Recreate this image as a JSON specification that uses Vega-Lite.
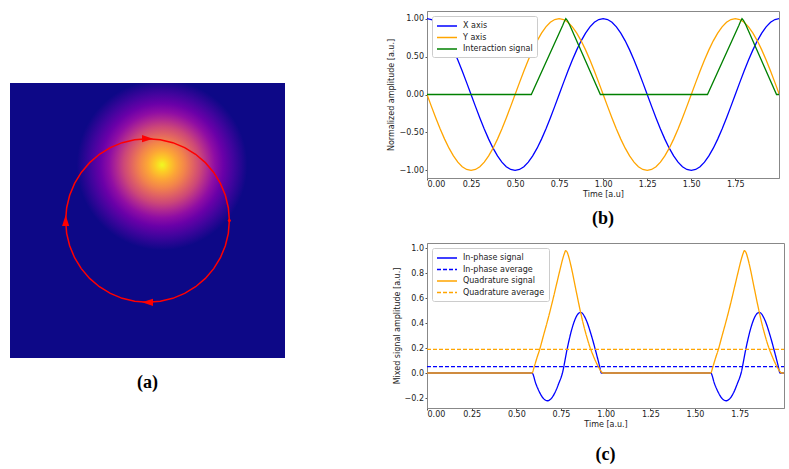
{
  "$schema": "https://vega.github.io/schema/vega-lite/v6.json",
  "padding": {"left": 10, "top": 10, "right": 0, "bottom": 0},
  "background": "#ffffff",
  "config": {
    "font": "DejaVu Sans",
    "view": {"stroke": "#888888", "strokeWidth": 1},
    "axis": {
      "labelFont": "DejaVu Sans", "labelFontSize": 8, "labelColor": "#222222",
      "titleFont": "DejaVu Sans", "titleFontSize": 8, "titleFontWeight": "normal", "titleColor": "#222222",
      "domainColor": "#888888", "tickColor": "#555555", "tickSize": 2,
      "titlePadding": 3, "grid": false
    },
    "axisX": {"labelPadding": 0, "titlePadding": 2},
    "axisY": {"labelPadding": 1.5, "titlePadding": 3},
    "legend": {
      "orient": "top-left", "offset": 5, "padding": 4, "fillColor": "#ffffff", "strokeColor": "#cccccc",
      "cornerRadius": 2, "labelFont": "DejaVu Sans", "labelFontSize": 8, "labelColor": "#222222",
      "symbolType": "M-1,0L3,0", "symbolSize": 100, "symbolStrokeWidth": 1.5, "rowPadding": 1.5, "labelOffset": 15
    },
    "title": {"font": "Liberation Serif", "fontSize": 18, "fontWeight": "bold", "color": "#000000", "orient": "bottom"}
  },
  "datasets": {
    "heat": [{"x0": -1.68, "x1": 1.68, "y0": -1.68, "y1": 1.68}],
    "arrows": [
      {"ax": 0, "ay": 1, "dir": "right"},
      {"ax": -1, "ay": 0, "dir": "up"},
      {"ax": 0, "ay": -1, "dir": "left"},
      {"ax": 1, "ay": 0, "dir": "dot"}
    ],
    "wave": [
      {"t": 0, "X axis": 1, "Y axis": 0},
      {"t": 0.025, "X axis": 0.9877, "Y axis": -0.1564},
      {"t": 0.05, "X axis": 0.9511, "Y axis": -0.309},
      {"t": 0.075, "X axis": 0.891, "Y axis": -0.454},
      {"t": 0.1, "X axis": 0.809, "Y axis": -0.5878},
      {"t": 0.125, "X axis": 0.7071, "Y axis": -0.7071},
      {"t": 0.15, "X axis": 0.5878, "Y axis": -0.809},
      {"t": 0.175, "X axis": 0.454, "Y axis": -0.891},
      {"t": 0.2, "X axis": 0.309, "Y axis": -0.9511},
      {"t": 0.225, "X axis": 0.1564, "Y axis": -0.9877},
      {"t": 0.25, "X axis": 0, "Y axis": -1},
      {"t": 0.275, "X axis": -0.1564, "Y axis": -0.9877},
      {"t": 0.3, "X axis": -0.309, "Y axis": -0.9511},
      {"t": 0.325, "X axis": -0.454, "Y axis": -0.891},
      {"t": 0.35, "X axis": -0.5878, "Y axis": -0.809},
      {"t": 0.375, "X axis": -0.7071, "Y axis": -0.7071},
      {"t": 0.4, "X axis": -0.809, "Y axis": -0.5878},
      {"t": 0.425, "X axis": -0.891, "Y axis": -0.454},
      {"t": 0.45, "X axis": -0.9511, "Y axis": -0.309},
      {"t": 0.475, "X axis": -0.9877, "Y axis": -0.1564},
      {"t": 0.5, "X axis": -1, "Y axis": 0},
      {"t": 0.525, "X axis": -0.9877, "Y axis": 0.1564},
      {"t": 0.55, "X axis": -0.9511, "Y axis": 0.309},
      {"t": 0.575, "X axis": -0.891, "Y axis": 0.454},
      {"t": 0.6, "X axis": -0.809, "Y axis": 0.5878},
      {"t": 0.625, "X axis": -0.7071, "Y axis": 0.7071},
      {"t": 0.65, "X axis": -0.5878, "Y axis": 0.809},
      {"t": 0.675, "X axis": -0.454, "Y axis": 0.891},
      {"t": 0.7, "X axis": -0.309, "Y axis": 0.9511},
      {"t": 0.725, "X axis": -0.1564, "Y axis": 0.9877},
      {"t": 0.75, "X axis": 0, "Y axis": 1},
      {"t": 0.775, "X axis": 0.1564, "Y axis": 0.9877},
      {"t": 0.8, "X axis": 0.309, "Y axis": 0.9511},
      {"t": 0.825, "X axis": 0.454, "Y axis": 0.891},
      {"t": 0.85, "X axis": 0.5878, "Y axis": 0.809},
      {"t": 0.875, "X axis": 0.7071, "Y axis": 0.7071},
      {"t": 0.9, "X axis": 0.809, "Y axis": 0.5878},
      {"t": 0.925, "X axis": 0.891, "Y axis": 0.454},
      {"t": 0.95, "X axis": 0.9511, "Y axis": 0.309},
      {"t": 0.975, "X axis": 0.9877, "Y axis": 0.1564},
      {"t": 1.0, "X axis": 1, "Y axis": 0},
      {"t": 1.025, "X axis": 0.9877, "Y axis": -0.1564},
      {"t": 1.05, "X axis": 0.9511, "Y axis": -0.309},
      {"t": 1.075, "X axis": 0.891, "Y axis": -0.454},
      {"t": 1.1, "X axis": 0.809, "Y axis": -0.5878},
      {"t": 1.125, "X axis": 0.7071, "Y axis": -0.7071},
      {"t": 1.15, "X axis": 0.5878, "Y axis": -0.809},
      {"t": 1.175, "X axis": 0.454, "Y axis": -0.891},
      {"t": 1.2, "X axis": 0.309, "Y axis": -0.9511},
      {"t": 1.225, "X axis": 0.1564, "Y axis": -0.9877},
      {"t": 1.25, "X axis": 0, "Y axis": -1},
      {"t": 1.275, "X axis": -0.1564, "Y axis": -0.9877},
      {"t": 1.3, "X axis": -0.309, "Y axis": -0.9511},
      {"t": 1.325, "X axis": -0.454, "Y axis": -0.891},
      {"t": 1.35, "X axis": -0.5878, "Y axis": -0.809},
      {"t": 1.375, "X axis": -0.7071, "Y axis": -0.7071},
      {"t": 1.4, "X axis": -0.809, "Y axis": -0.5878},
      {"t": 1.425, "X axis": -0.891, "Y axis": -0.454},
      {"t": 1.45, "X axis": -0.9511, "Y axis": -0.309},
      {"t": 1.475, "X axis": -0.9877, "Y axis": -0.1564},
      {"t": 1.5, "X axis": -1, "Y axis": 0},
      {"t": 1.525, "X axis": -0.9877, "Y axis": 0.1564},
      {"t": 1.55, "X axis": -0.9511, "Y axis": 0.309},
      {"t": 1.575, "X axis": -0.891, "Y axis": 0.454},
      {"t": 1.6, "X axis": -0.809, "Y axis": 0.5878},
      {"t": 1.625, "X axis": -0.7071, "Y axis": 0.7071},
      {"t": 1.65, "X axis": -0.5878, "Y axis": 0.809},
      {"t": 1.675, "X axis": -0.454, "Y axis": 0.891},
      {"t": 1.7, "X axis": -0.309, "Y axis": 0.9511},
      {"t": 1.725, "X axis": -0.1564, "Y axis": 0.9877},
      {"t": 1.75, "X axis": 0, "Y axis": 1},
      {"t": 1.775, "X axis": 0.1564, "Y axis": 0.9877},
      {"t": 1.8, "X axis": 0.309, "Y axis": 0.9511},
      {"t": 1.825, "X axis": 0.454, "Y axis": 0.891},
      {"t": 1.85, "X axis": 0.5878, "Y axis": 0.809},
      {"t": 1.875, "X axis": 0.7071, "Y axis": 0.7071},
      {"t": 1.9, "X axis": 0.809, "Y axis": 0.5878},
      {"t": 1.925, "X axis": 0.891, "Y axis": 0.454},
      {"t": 1.95, "X axis": 0.9511, "Y axis": 0.309},
      {"t": 1.975, "X axis": 0.9877, "Y axis": 0.1564},
      {"t": 2.0, "X axis": 1, "Y axis": 0}
    ],
    "inter": [
      {"t": 0, "Interaction signal": 0},
      {"t": 0.592, "Interaction signal": 0},
      {"t": 0.77, "Interaction signal": 0.91},
      {"t": 0.78, "Interaction signal": 0.965},
      {"t": 0.788, "Interaction signal": 1},
      {"t": 0.797, "Interaction signal": 0.975},
      {"t": 0.81, "Interaction signal": 0.915},
      {"t": 0.984, "Interaction signal": 0},
      {"t": 1.592, "Interaction signal": 0},
      {"t": 1.77, "Interaction signal": 0.91},
      {"t": 1.78, "Interaction signal": 0.965},
      {"t": 1.788, "Interaction signal": 1},
      {"t": 1.797, "Interaction signal": 0.975},
      {"t": 1.81, "Interaction signal": 0.915},
      {"t": 1.984, "Interaction signal": 0},
      {"t": 1.998, "Interaction signal": 0}
    ],
    "mix": [
      {"s": "In-phase signal", "t": 0, "v": 0},
      {"s": "In-phase signal", "t": 0.588, "v": 0},
      {"s": "In-phase signal", "t": 0.609, "v": -0.085},
      {"s": "In-phase signal", "t": 0.631, "v": -0.157},
      {"s": "In-phase signal", "t": 0.652, "v": -0.205},
      {"s": "In-phase signal", "t": 0.674, "v": -0.222},
      {"s": "In-phase signal", "t": 0.695, "v": -0.205},
      {"s": "In-phase signal", "t": 0.716, "v": -0.157},
      {"s": "In-phase signal", "t": 0.737, "v": -0.085},
      {"s": "In-phase signal", "t": 0.758, "v": 0},
      {"s": "In-phase signal", "t": 0.7835, "v": 0.186},
      {"s": "In-phase signal", "t": 0.809, "v": 0.343},
      {"s": "In-phase signal", "t": 0.8345, "v": 0.448},
      {"s": "In-phase signal", "t": 0.86, "v": 0.485},
      {"s": "In-phase signal", "t": 0.889, "v": 0.43},
      {"s": "In-phase signal", "t": 0.918, "v": 0.31},
      {"s": "In-phase signal", "t": 0.947, "v": 0.16},
      {"s": "In-phase signal", "t": 0.965, "v": 0.06},
      {"s": "In-phase signal", "t": 0.976, "v": 0},
      {"s": "In-phase signal", "t": 1.588, "v": 0},
      {"s": "In-phase signal", "t": 1.609, "v": -0.085},
      {"s": "In-phase signal", "t": 1.631, "v": -0.157},
      {"s": "In-phase signal", "t": 1.652, "v": -0.205},
      {"s": "In-phase signal", "t": 1.674, "v": -0.222},
      {"s": "In-phase signal", "t": 1.695, "v": -0.205},
      {"s": "In-phase signal", "t": 1.716, "v": -0.157},
      {"s": "In-phase signal", "t": 1.737, "v": -0.085},
      {"s": "In-phase signal", "t": 1.758, "v": 0},
      {"s": "In-phase signal", "t": 1.7835, "v": 0.186},
      {"s": "In-phase signal", "t": 1.809, "v": 0.343},
      {"s": "In-phase signal", "t": 1.8345, "v": 0.448},
      {"s": "In-phase signal", "t": 1.86, "v": 0.485},
      {"s": "In-phase signal", "t": 1.889, "v": 0.43},
      {"s": "In-phase signal", "t": 1.918, "v": 0.31},
      {"s": "In-phase signal", "t": 1.947, "v": 0.16},
      {"s": "In-phase signal", "t": 1.965, "v": 0.06},
      {"s": "In-phase signal", "t": 1.976, "v": 0},
      {"s": "In-phase signal", "t": 1.998, "v": 0},
      {"s": "In-phase average", "t": 0, "v": 0.051},
      {"s": "In-phase average", "t": 1.998, "v": 0.051},
      {"s": "Quadrature signal", "t": 0, "v": 0},
      {"s": "Quadrature signal", "t": 0.588, "v": 0},
      {"s": "Quadrature signal", "t": 0.6, "v": 0.05},
      {"s": "Quadrature signal", "t": 0.615, "v": 0.12},
      {"s": "Quadrature signal", "t": 0.631, "v": 0.19},
      {"s": "Quadrature signal", "t": 0.65, "v": 0.29},
      {"s": "Quadrature signal", "t": 0.675, "v": 0.42},
      {"s": "Quadrature signal", "t": 0.7, "v": 0.56},
      {"s": "Quadrature signal", "t": 0.725, "v": 0.71},
      {"s": "Quadrature signal", "t": 0.745, "v": 0.83},
      {"s": "Quadrature signal", "t": 0.76, "v": 0.915},
      {"s": "Quadrature signal", "t": 0.77, "v": 0.96},
      {"s": "Quadrature signal", "t": 0.776, "v": 0.978},
      {"s": "Quadrature signal", "t": 0.783, "v": 0.97},
      {"s": "Quadrature signal", "t": 0.795, "v": 0.92},
      {"s": "Quadrature signal", "t": 0.81, "v": 0.83},
      {"s": "Quadrature signal", "t": 0.83, "v": 0.69},
      {"s": "Quadrature signal", "t": 0.85, "v": 0.55},
      {"s": "Quadrature signal", "t": 0.87, "v": 0.42},
      {"s": "Quadrature signal", "t": 0.89, "v": 0.31},
      {"s": "Quadrature signal", "t": 0.91, "v": 0.215},
      {"s": "Quadrature signal", "t": 0.93, "v": 0.14},
      {"s": "Quadrature signal", "t": 0.95, "v": 0.075},
      {"s": "Quadrature signal", "t": 0.965, "v": 0.035},
      {"s": "Quadrature signal", "t": 0.976, "v": 0.01},
      {"s": "Quadrature signal", "t": 0.984, "v": 0},
      {"s": "Quadrature signal", "t": 1.588, "v": 0},
      {"s": "Quadrature signal", "t": 1.6, "v": 0.05},
      {"s": "Quadrature signal", "t": 1.615, "v": 0.12},
      {"s": "Quadrature signal", "t": 1.631, "v": 0.19},
      {"s": "Quadrature signal", "t": 1.65, "v": 0.29},
      {"s": "Quadrature signal", "t": 1.675, "v": 0.42},
      {"s": "Quadrature signal", "t": 1.7, "v": 0.56},
      {"s": "Quadrature signal", "t": 1.725, "v": 0.71},
      {"s": "Quadrature signal", "t": 1.745, "v": 0.83},
      {"s": "Quadrature signal", "t": 1.76, "v": 0.915},
      {"s": "Quadrature signal", "t": 1.77, "v": 0.96},
      {"s": "Quadrature signal", "t": 1.776, "v": 0.978},
      {"s": "Quadrature signal", "t": 1.783, "v": 0.97},
      {"s": "Quadrature signal", "t": 1.795, "v": 0.92},
      {"s": "Quadrature signal", "t": 1.81, "v": 0.83},
      {"s": "Quadrature signal", "t": 1.83, "v": 0.69},
      {"s": "Quadrature signal", "t": 1.85, "v": 0.55},
      {"s": "Quadrature signal", "t": 1.87, "v": 0.42},
      {"s": "Quadrature signal", "t": 1.89, "v": 0.31},
      {"s": "Quadrature signal", "t": 1.91, "v": 0.215},
      {"s": "Quadrature signal", "t": 1.93, "v": 0.14},
      {"s": "Quadrature signal", "t": 1.95, "v": 0.075},
      {"s": "Quadrature signal", "t": 1.965, "v": 0.035},
      {"s": "Quadrature signal", "t": 1.976, "v": 0.01},
      {"s": "Quadrature signal", "t": 1.984, "v": 0},
      {"s": "Quadrature signal", "t": 1.998, "v": 0},
      {"s": "Quadrature average", "t": 0, "v": 0.189},
      {"s": "Quadrature average", "t": 1.998, "v": 0.189}
    ]
  },
  "spacing": 102,
  "resolve": {
    "scale": {"color": "independent", "strokeDash": "independent", "shape": "independent", "size": "independent"},
    "legend": {"color": "independent", "strokeDash": "independent", "shape": "independent", "size": "independent"}
  },
  "hconcat": [
    {
      "width": 275,
      "height": 347,
      "view": {"stroke": null},
      "title": {"text": "(a)", "offset": 16},
      "layer": [
        {
          "data": {"name": "heat"},
          "mark": {
            "type": "rect",
            "fill": {
              "gradient": "radial",
              "x1": 0.553, "y1": 0.298, "r1": 0,
              "x2": 0.553, "y2": 0.298, "r2": 0.31,
              "stops": [
                {"offset": 0, "color": "#f0f921"},
                {"offset": 0.08, "color": "#fcce25"},
                {"offset": 0.17, "color": "#fca636"},
                {"offset": 0.27, "color": "#f2844b"},
                {"offset": 0.36, "color": "#e16462"},
                {"offset": 0.45, "color": "#cc4778"},
                {"offset": 0.53, "color": "#b12a90"},
                {"offset": 0.62, "color": "#8f0da4"},
                {"offset": 0.72, "color": "#6a00a8"},
                {"offset": 0.84, "color": "#41049d"},
                {"offset": 1, "color": "#0d0887"}
              ]
            }
          },
          "encoding": {
            "x": {"field": "x0", "type": "quantitative", "scale": {"domain": [-1.68, 1.68], "nice": false, "zero": false}, "axis": null},
            "x2": {"field": "x1"},
            "y": {"field": "y0", "type": "quantitative", "scale": {"domain": [-1.68, 2.56], "nice": false, "zero": false}, "axis": null},
            "y2": {"field": "y1"}
          }
        },
        {
          "data": {"name": "wave"},
          "mark": {"type": "line", "color": "#ff0000", "strokeWidth": 1.5},
          "encoding": {
            "x": {"field": "X axis", "type": "quantitative", "scale": {"domain": [-1.68, 1.68], "nice": false, "zero": false}, "axis": null},
            "y": {"field": "Y axis", "type": "quantitative", "scale": {"domain": [-1.68, 2.56], "nice": false, "zero": false}, "axis": null},
            "order": {"field": "t", "type": "quantitative"}
          }
        },
        {
          "data": {"name": "arrows"},
          "transform": [{"filter": "datum.dir != 'dot'"}],
          "mark": {"type": "point", "filled": true, "color": "#ff0000", "opacity": 1, "size": 121},
          "encoding": {
            "x": {"field": "ax", "type": "quantitative", "scale": {"domain": [-1.68, 1.68], "nice": false, "zero": false}, "axis": null},
            "y": {"field": "ay", "type": "quantitative", "scale": {"domain": [-1.68, 2.56], "nice": false, "zero": false}, "axis": null},
            "shape": {"field": "dir", "type": "nominal", "legend": null, "scale": {"domain": ["right", "up", "left"], "range": ["M1,0L-1,-0.65L-1,0.65Z", "M0,-1L-0.65,1L0.65,1Z", "M-1,0L1,-0.65L1,0.65Z"]}}
          }
        },
        {
          "data": {"name": "arrows"},
          "transform": [{"filter": "datum.dir == 'dot'"}],
          "mark": {"type": "point", "filled": true, "color": "#ff0000", "opacity": 1, "size": 10, "shape": "circle"},
          "encoding": {
            "x": {"field": "ax", "type": "quantitative", "scale": {"domain": [-1.68, 1.68], "nice": false, "zero": false}, "axis": null},
            "y": {"field": "ay", "type": "quantitative", "scale": {"domain": [-1.68, 2.56], "nice": false, "zero": false}, "axis": null}
          }
        }
      ]
    },
    {
      "spacing": 13,
      "resolve": {
        "scale": {"color": "independent", "strokeDash": "independent"},
        "legend": {"color": "independent", "strokeDash": "independent"}
      },
      "vconcat": [
        {
          "width": 352,
          "height": 167,
          "title": {"text": "(b)", "offset": 12},
          "layer": [
            {
              "data": {"name": "wave"},
              "transform": [{"fold": ["X axis", "Y axis"], "as": ["series", "value"]}],
              "mark": {"type": "line", "strokeWidth": 1.3, "clip": true},
              "encoding": {
                "x": {"field": "t", "type": "quantitative", "scale": {"domain": [0, 1.998], "nice": false, "zero": false},
                      "axis": {"title": "Time [a.u]", "values": [0, 0.25, 0.5, 0.75, 1, 1.25, 1.5, 1.75], "format": ".2f"}},
                "y": {"field": "value", "type": "quantitative", "scale": {"domain": [-1.1, 1.1], "nice": false, "zero": false},
                      "axis": {"title": "Normalized amplitude [a.u.]", "values": [-1, -0.75, -0.5, -0.25, 0, 0.25, 0.5, 0.75, 1], "format": ".2f"}},
                "color": {"field": "series", "type": "nominal",
                          "scale": {"domain": ["X axis", "Y axis", "Interaction signal"], "range": ["#0000ff", "#ffa500", "#008000"]},
                          "legend": {"title": null}}
              }
            },
            {
              "data": {"name": "inter"},
              "transform": [{"fold": ["Interaction signal"], "as": ["series", "value"]}],
              "mark": {"type": "line", "strokeWidth": 1.3, "clip": true},
              "encoding": {
                "x": {"field": "t", "type": "quantitative"},
                "y": {"field": "value", "type": "quantitative"},
                "color": {"field": "series", "type": "nominal"}
              }
            }
          ]
        },
        {
          "width": 357,
          "height": 165,
          "title": {"text": "(c)", "offset": 18},
          "data": {"name": "mix"},
          "mark": {"type": "line", "strokeWidth": 1.3, "clip": true, "interpolate": "monotone"},
          "encoding": {
            "x": {"field": "t", "type": "quantitative", "scale": {"domain": [0, 1.998], "nice": false, "zero": false},
                  "axis": {"title": "Time [a.u.]", "values": [0, 0.25, 0.5, 0.75, 1, 1.25, 1.5, 1.75], "format": ".2f"}},
            "y": {"field": "v", "type": "quantitative", "scale": {"domain": [-0.28, 1.04], "nice": false, "zero": false},
                  "axis": {"title": "Mixed signal amplitude [a.u.]", "values": [-0.2, 0, 0.2, 0.4, 0.6, 0.8, 1.0], "format": ".1f"}},
            "color": {"field": "s", "type": "nominal",
                      "scale": {"domain": ["In-phase signal", "In-phase average", "Quadrature signal", "Quadrature average"], "range": ["#0000ff", "#0000ff", "#ffa500", "#ffa500"]},
                      "legend": {"title": null}},
            "strokeDash": {"field": "s", "type": "nominal",
                           "scale": {"domain": ["In-phase signal", "In-phase average", "Quadrature signal", "Quadrature average"], "range": [[1, 0], [4, 2], [1, 0], [4, 2]]},
                           "legend": {"title": null}}
          }
        }
      ]
    }
  ]
}
